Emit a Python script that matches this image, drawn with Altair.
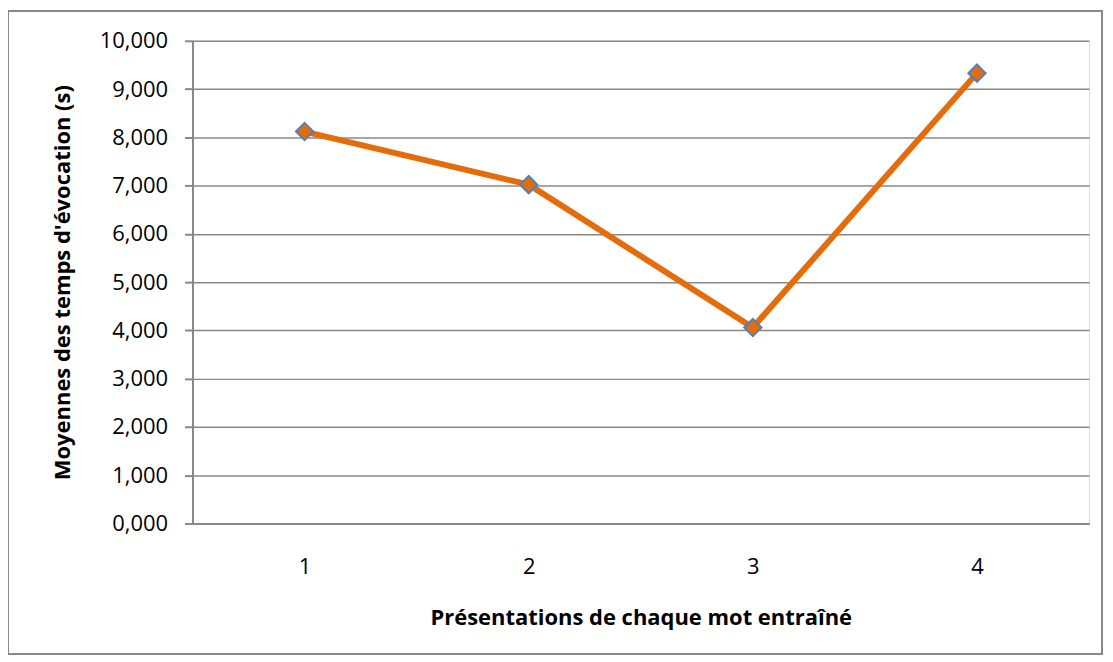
import altair as alt
import pandas as pd

categories = ["1", "2", "3", "4"]
values = [8.12, 7.02, 4.06, 9.33]

df = pd.DataFrame({"presentation": categories, "temps": values})

W, H = 899, 484
FONT = "Open Sans"

x = alt.X("presentation:O", sort=categories,
          scale=alt.Scale(type="point", padding=0.5),
          axis=alt.Axis(title="Présentations de chaque mot entraîné", labelAngle=0,
                        ticks=False, domain=True, domainColor="#888888", domainWidth=2,
                        labelPadding=33, titlePadding=30, labelFontSize=22,
                        titleFontSize=22, titleFontWeight="bold", labelColor="#000000",
                        titleColor="#000000", labelFont=FONT, titleFont=FONT))
y = alt.Y("temps:Q", scale=alt.Scale(domain=[0, 10], nice=False),
          axis=alt.Axis(title="Moyennes des temps d'évocation (s)", values=list(range(0, 11)),
                        labelExpr="replace(format(datum.value, '.3f'), '.', ',')",
                        grid=True, gridColor="#888888", gridWidth=1.5,
                        domain=True, domainColor="#888888", domainWidth=2,
                        ticks=True, tickSize=8, tickColor="#888888", tickWidth=2,
                        labelPadding=17, titlePadding=25, labelFontSize=22,
                        titleFontSize=22, titleFontWeight="bold", labelColor="#000000",
                        titleColor="#000000", labelFont=FONT, titleFont=FONT))

line = alt.Chart(df).mark_line(color="#E46C0A", strokeWidth=6).encode(x=x, y=y)
points = alt.Chart(df).mark_point(shape="diamond", filled=True, fill="#E46C0A",
                                  stroke="#4F81BD", strokeWidth=2, size=300,
                                  opacity=1).encode(x=x, y=y)

border = alt.Chart(df).mark_rect(fill=None, stroke="#888888", strokeWidth=2).encode(
    x=alt.value(-185), x2=alt.value(912), y=alt.value(-30), y2=alt.value(615))

chart = alt.layer(border, line, points).properties(
    width=W, height=H,
    autosize=alt.AutoSizeParams(type="none"),
    padding={"left": 185, "top": 32, "right": 16, "bottom": 134},
).configure_view(stroke=None).configure(background="white")

chart.save("out.html", embed_options={"renderer": "svg", "actions": False})
